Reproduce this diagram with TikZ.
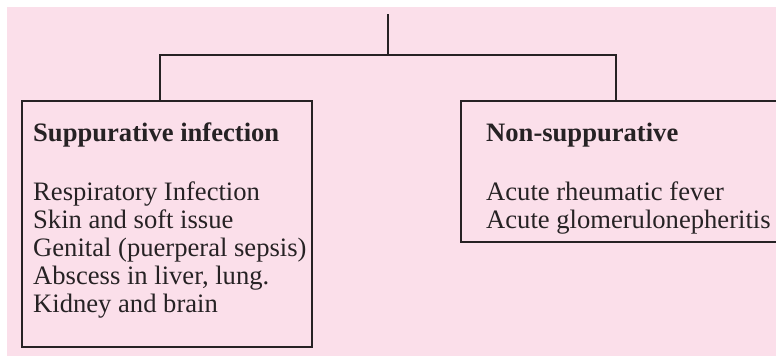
\documentclass[tikz,border=0pt]{standalone}
\usepackage{fontspec}
\setmainfont{Liberation Serif}
\definecolor{pinkbg}{RGB}{251,223,234}
\definecolor{linecol}{RGB}{38,34,36}
\begin{document}
\begin{tikzpicture}[x=1pt,y=1pt,
  conn/.style={draw=linecol,line width=1.8pt},
  boxstyle/.style={draw=linecol,line width=1.8pt,rectangle,inner sep=0pt},
  headtext/.style={font=\fontsize{26.6}{27.8}\selectfont\bfseries,text=linecol,inner sep=0pt,anchor=base west},
  listtext/.style={font=\fontsize{26.6}{27.8}\selectfont,text=linecol,inner sep=0pt,anchor=base west,align=left}]
\useasboundingbox (0,0) rectangle (776,356);
\fill[pinkbg] (6.7,0) rectangle (776,349);
\begin{scope}
\clip (0,0) rectangle (776,356);
% boxes
\node[boxstyle,minimum width=290pt,minimum height=245.4pt] (lbox) at (166.7,132) {};
\node[boxstyle,minimum width=329pt,minimum height=140.4pt] (rbox) at (625.5,184.5) {};
\end{scope}
% connector points
\coordinate (top) at (388.3,341.7);
\coordinate (mid) at (388.3,300.7);
\coordinate (lj) at (160.3,300.7);
\coordinate (rj) at (615.7,300.7);
\draw[conn] (top) -- (mid);
\draw[conn,line join=miter] (lbox.north -| lj) -- (lj) -- (rj) -- (rbox.north -| rj);
% texts
\node[headtext] (lhead) at (33,214.3) {Suppurative infection};
\node[headtext] (rhead) at (486,214.3) {Non-suppurative};
\node[listtext,anchor=north west] (llist) at (33,174) {Respiratory Infection\\Skin and soft issue\\Genital (puerperal sepsis)\\Abscess in liver, lung.\\Kidney and brain};
\node[listtext,anchor=north west] (rlist) at (486,174) {Acute rheumatic fever\\Acute glomerulonepheritis};
\end{tikzpicture}
\end{document}
